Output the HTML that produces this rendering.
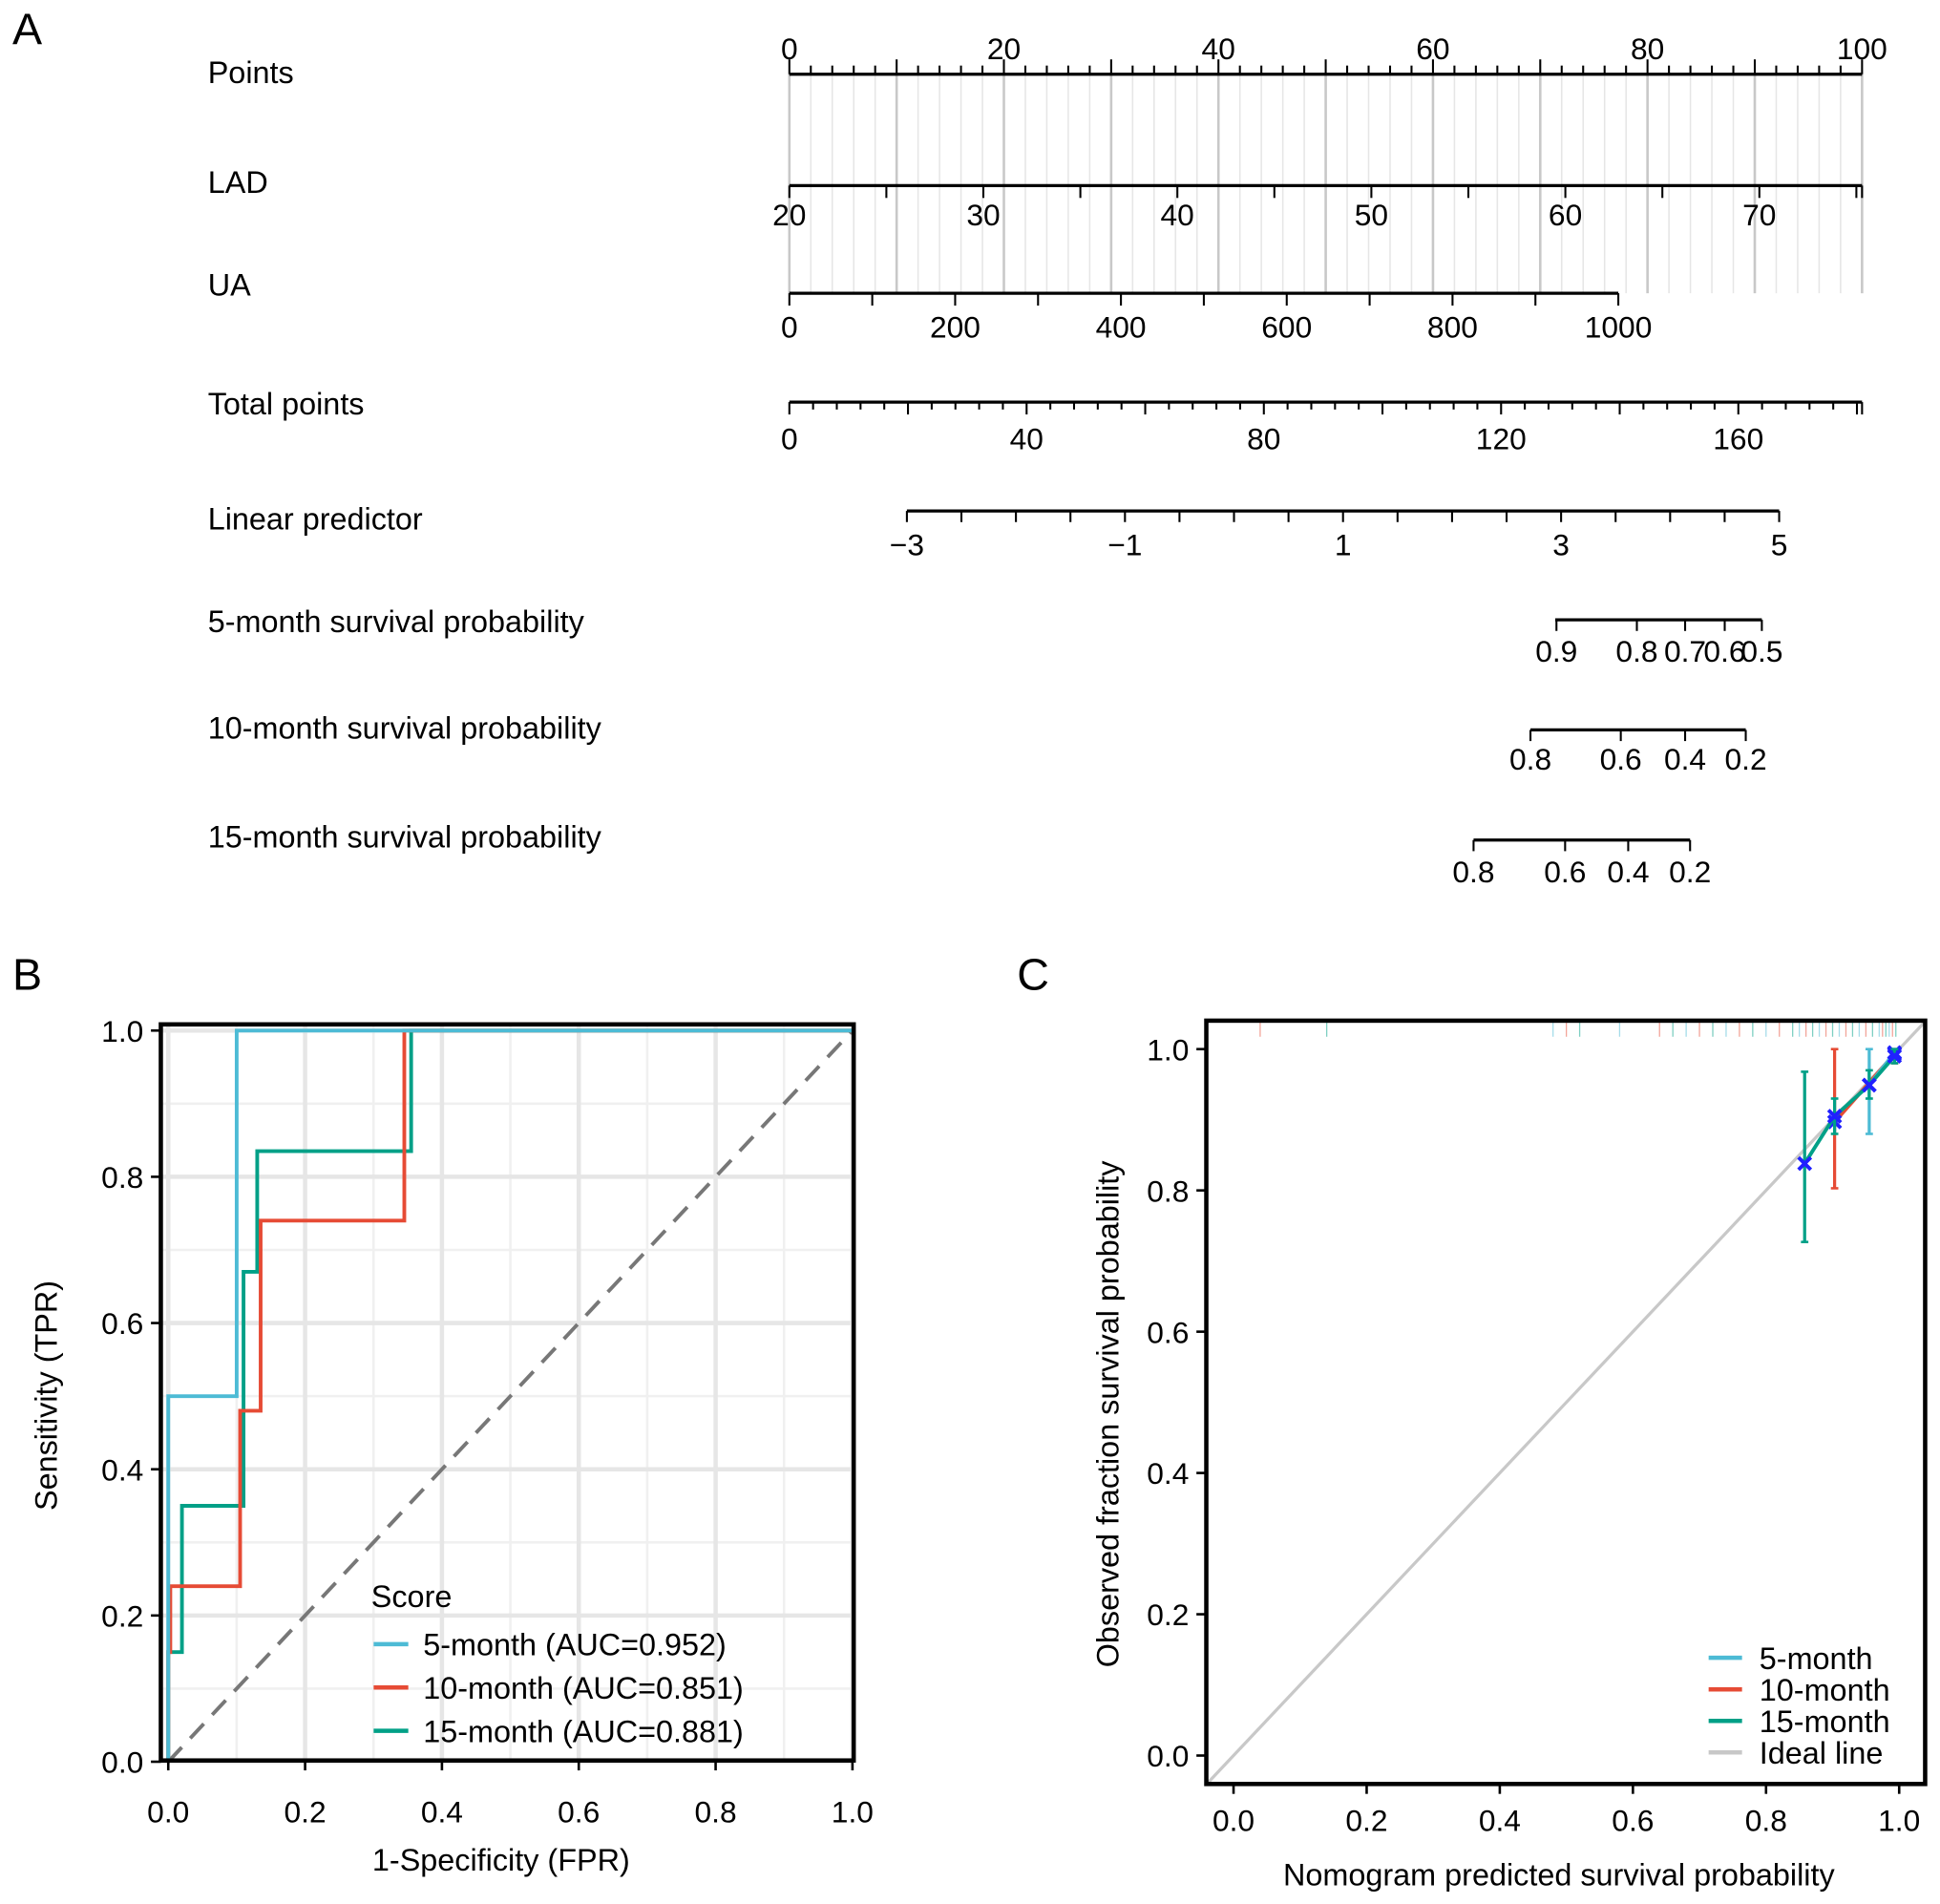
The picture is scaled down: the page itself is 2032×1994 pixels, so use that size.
<!DOCTYPE html>
<html><head><meta charset="utf-8">
<style>
html,body{margin:0;padding:0;background:#fff;}
svg{display:block;font-family:"Liberation Sans",Arial,sans-serif;}
</style></head>
<body>
<svg id="fig" width="2032" height="1994" viewBox="0 0 1568 1539" preserveAspectRatio="none" xmlns="http://www.w3.org/2000/svg">
<rect x="0" y="0" width="1568" height="1539" fill="#fff"/>
<g id="pa"></g>
<g id="pb"></g>
<g id="pc"></g>
</svg>
<script>
// ---------- Panel A data ----------
const rowLabels = ["Points","LAD","UA","Total points","Linear predictor","5-month survival probability","10-month survival probability","15-month survival probability"];
const pointsTicks = [0,20,40,60,80,100];
const ladTicks = [20,30,40,50,60,70];
const uaTicks = [0,200,400,600,800,1000];
const totalTicks = [0,40,80,120,160];
const lpTicks = [-3,-1,1,3,5];
const surv5Ticks = [0.9,0.8,0.7,0.6,0.5];
const surv5Pos = [1258,1323,1362,1394,1424];
const surv10Ticks = [0.8,0.6,0.4,0.2];
const surv10Pos = [1237,1310,1362,1411];
const surv15Ticks = [0.8,0.6,0.4,0.2];
const surv15Pos = [1191,1265,1316,1366];

// ---------- Panel B data ----------
const rocTicks = [0.0,0.2,0.4,0.6,0.8,1.0];
const roc5x = [0,0,0.1,0.1,1];
const roc5y = [0,0.5,0.5,1,1];
const roc10x = [0,0,0.003,0.003,0.105,0.105,0.135,0.135,0.345,0.345,1];
const roc10y = [0,0.15,0.15,0.24,0.24,0.48,0.48,0.74,0.74,1,1];
const roc15x = [0,0,0.02,0.02,0.11,0.11,0.13,0.13,0.355,0.355,1];
const roc15y = [0,0.15,0.15,0.35,0.35,0.67,0.67,0.835,0.835,1,1];
const rocLegend = ["5-month (AUC=0.952)","10-month (AUC=0.851)","15-month (AUC=0.881)"];

// ---------- Panel C data ----------
const calTicks = [0.0,0.2,0.4,0.6,0.8,1.0];
const cal5x = [0.955,0.993]; const cal5y=[0.949,0.995]; const cal5lo=[0.88,0.985]; const cal5hi=[1.0,1.0];
const cal10x = [0.903,0.993]; const cal10y=[0.897,0.993]; const cal10lo=[0.803,0.98]; const cal10hi=[1.0,1.0];
const cal15x = [0.858,0.903,0.955,0.993]; const cal15y=[0.838,0.905,0.949,0.99]; const cal15lo=[0.727,0.88,0.93,0.98]; const cal15hi=[0.968,0.93,0.97,1.0];
const rugX = [0.04,0.14,0.48,0.5,0.52,0.58,0.64,0.66,0.68,0.7,0.72,0.74,0.76,0.78,0.8,0.82,0.84,0.85,0.86,0.87,0.88,0.89,0.9,0.91,0.92,0.93,0.94,0.95,0.96,0.97,0.975,0.98,0.985,0.99,0.995];
const calLegend = ["5-month","10-month","15-month","Ideal line"];

const NS="http://www.w3.org/2000/svg";
function mk(parent,tag,attrs,text){const e=document.createElementNS(NS,tag);for(const k in attrs)e.setAttribute(k,attrs[k]);if(text!==undefined)e.textContent=text;parent.appendChild(e);return e;}
const blue="#4DBBD5",red="#E64B35",green="#00A087";
const FT=25.5, FL=25;

// ===== Panel A =====
const pa=document.getElementById('pa');
let t=mk(pa,'text',{x:10,y:36,'font-size':36},'A');


const rowY=[58,147,230,326,419,502,588,676];
rowLabels.forEach((l,i)=>{const e=mk(pa,'text',{x:168,y:rowY[i]+9,'font-size':FL},l);

});
const ptsX=v=>638+(1505-638)*v/100;
for(let v=0;v<=100;v+=2){const g=mk(pa,'line',{x1:ptsX(v),x2:ptsX(v),y1:60,y2:237,stroke:v%10===0?'#c8c8c8':'#e6e6e6','stroke-width':v%10===0?2:1.2});

}
function axis(name,y,x0,x1,ticks,pos,labels,up,labY,tl){
 const g=mk(pa,'g',{});
 
 
 mk(g,'line',{x1:x0,x2:x1,y1:y,y2:y,stroke:'#000','stroke-width':2.5});
 ticks.forEach((p,i)=>mk(g,'line',{x1:p,x2:p,y1:y,y2:up?y-(tl[i]||8):y+(tl[i]||8),stroke:'#000','stroke-width':1.6}));
 labels.forEach((l,i)=>mk(g,'text',{x:pos[i],y:labY,'font-size':FT-1,'text-anchor':'middle'},l));
}
let tk=[],tl=[];
for(let v=0;v<=100;v+=2){tk.push(ptsX(v));tl.push(v%10===0?12:7);}
axis('points-axis',60,638,1505,tk,pointsTicks.map(ptsX),pointsTicks.map(String),true,48,tl);
const ladX=v=>638+(1422-638)*(v-20)/50;
tk=[];tl=[];for(let v=20;v<=75;v+=5){tk.push(ladX(v));tl.push(10);} tk.push(1505);tl.push(10);
axis('lad-axis',150,638,1505,tk,ladTicks.map(ladX),ladTicks.map(String),false,182,tl);
const uaX=v=>638+(1308-638)*v/1000;
tk=[];tl=[];for(let v=0;v<=1000;v+=100){tk.push(uaX(v));tl.push(10);}
axis('ua-axis',237,638,1308,tk,uaTicks.map(uaX),uaTicks.map(String),false,273,tl);
const totX=v=>638+(1405-638)*v/160;
tk=[];tl=[];for(let v=0;v<=180;v+=4){tk.push(totX(v));tl.push(v%20===0?10:6);} tk.push(1505);tl.push(10);
axis('total-points-axis',325,638,1505,tk,totalTicks.map(totX),totalTicks.map(String),false,363,tl);
const lpX=v=>733+(1438-733)*(v+3)/8;
tk=[];tl=[];for(let v=-3;v<=5;v+=0.5){tk.push(lpX(v));tl.push(9);}
axis('linear-predictor-axis',413,733,1438,tk,lpTicks.map(lpX),lpTicks.map(v=>v<0?'\u2212'+(-v):String(v)),false,449,tl);
axis('surv-5-month-axis',501,1257,1424,surv5Pos,surv5Pos,surv5Ticks.map(String),false,535,[9,9,9,9,9]);
axis('surv-10-month-axis',590,1237,1411,surv10Pos,surv10Pos,surv10Ticks.map(String),false,622,[9,9,9,9]);
axis('surv-15-month-axis',679,1191,1366,surv15Pos,surv15Pos,surv15Ticks.map(String),false,713,[9,9,9,9]);

// ===== Panel B =====
const pb=document.getElementById('pb');
t=mk(pb,'text',{x:10,y:800,'font-size':36},'B');


const bx=v=>136+(689-136)*v, by=v=>1424-(1424-833)*v;
for(let v=0.1;v<1.0;v+=0.2){const a=mk(pb,'line',{x1:bx(v),x2:bx(v),y1:828,y2:1423,stroke:'#f0f0f0','stroke-width':2});
 const b=mk(pb,'line',{x1:130,x2:690,y1:by(v),y2:by(v),stroke:'#f0f0f0','stroke-width':2});}
rocTicks.forEach(v=>{const a=mk(pb,'line',{x1:bx(v),x2:bx(v),y1:828,y2:1423,stroke:'#e6e6e6','stroke-width':3.5});
 const b=mk(pb,'line',{x1:130,x2:690,y1:by(v),y2:by(v),stroke:'#e6e6e6','stroke-width':3.5});});
let dg=mk(pb,'line',{x1:bx(0),y1:by(0),x2:bx(1),y2:by(1),stroke:'#777','stroke-width':3,'stroke-dasharray':'16,10'});


function poly(parent,xs,ys,fx,fy,col,name,w){const p=mk(parent,'polyline',{points:xs.map((x,i)=>fx(x)+','+fy(ys[i])).join(' '),fill:'none',stroke:col,'stroke-width':w||3});
 
 return p;}
poly(pb,roc15x,roc15y,bx,by,green,'roc-curve-15-month');
poly(pb,roc10x,roc10y,bx,by,red,'roc-curve-10-month');
poly(pb,roc5x,roc5y,bx,by,blue,'roc-curve-5-month');
let fr=mk(pb,'rect',{x:130,y:828,width:560,height:595,fill:'none',stroke:'#000','stroke-width':3.5});


rocTicks.forEach(v=>{mk(pb,'line',{x1:bx(v),x2:bx(v),y1:1423,y2:1431,stroke:'#000','stroke-width':2});
 const a=mk(pb,'text',{x:bx(v),y:1473,'font-size':FT-1,'text-anchor':'middle'},v.toFixed(1));
 mk(pb,'line',{x1:122,x2:130,y1:by(v),y2:by(v),stroke:'#000','stroke-width':2});
 const b=mk(pb,'text',{x:116,y:by(v)+9,'font-size':FT-1,'text-anchor':'end'},v.toFixed(1));});
t=mk(pb,'text',{x:405,y:1512,'font-size':FL,'text-anchor':'middle'},'1-Specificity (FPR)');


t=mk(pb,'text',{x:0,y:0,'font-size':FL,'text-anchor':'middle',transform:'translate(46,1128) rotate(-90)'},'Sensitivity (TPR)');


t=mk(pb,'text',{x:300,y:1299,'font-size':FL},'Score');


[blue,red,green].forEach((c,i)=>{const g=mk(pb,'g',{});
 
 
 const y=1329+i*35;mk(g,'line',{x1:302,x2:330,y1:y,y2:y,stroke:c,'stroke-width':3.5});
 mk(g,'text',{x:342,y:y+9,'font-size':FL},rocLegend[i]);});

// ===== Panel C =====
const pc=document.getElementById('pc');
t=mk(pc,'text',{x:822,y:800,'font-size':36},'C');


const cx=v=>997+(1535-997)*v, cy=v=>1419-(1419-848)*v;
const cp=mk(pc,'clipPath',{id:'cclip'});mk(cp,'rect',{x:975,y:825,width:581,height:617});
let il=mk(pc,'line',{x1:cx(-0.05),y1:cy(-0.05),x2:cx(1.05),y2:cy(1.05),stroke:'#c8c8c8','stroke-width':2.5,'clip-path':'url(#cclip)'});


rugX.forEach((v,i)=>{const r=mk(pc,'line',{x1:cx(v),x2:cx(v),y1:826,y2:838,stroke:[red,green,blue][i%3],'stroke-width':1,opacity:0.5});
 
 });
function calSeries(xs,ys,lo,hi,col,name){const g=mk(pc,'g',{});
 
 
 xs.forEach((x,i)=>{mk(g,'line',{x1:cx(x),x2:cx(x),y1:cy(lo[i]),y2:cy(hi[i]),stroke:col,'stroke-width':2.5});
  mk(g,'line',{x1:cx(x)-3,x2:cx(x)+3,y1:cy(lo[i]),y2:cy(lo[i]),stroke:col,'stroke-width':2});
  mk(g,'line',{x1:cx(x)-3,x2:cx(x)+3,y1:cy(hi[i]),y2:cy(hi[i]),stroke:col,'stroke-width':2});});
 mk(g,'polyline',{points:xs.map((x,i)=>cx(x)+','+cy(ys[i])).join(' '),fill:'none',stroke:col,'stroke-width':3});
 xs.forEach((x,i)=>{const X=cx(x),Y=cy(ys[i]);mk(g,'path',{d:`M${X-5},${Y-5}L${X+5},${Y+5}M${X-5},${Y+5}L${X+5},${Y-5}`,stroke:'#2020ff','stroke-width':3});});}
calSeries(cal10x,cal10y,cal10lo,cal10hi,red,'calibration-10-month');
calSeries(cal5x,cal5y,cal5lo,cal5hi,blue,'calibration-5-month');
calSeries(cal15x,cal15y,cal15lo,cal15hi,green,'calibration-15-month');
fr=mk(pc,'rect',{x:975,y:825,width:581,height:617,fill:'none',stroke:'#000','stroke-width':3.5});


calTicks.forEach(v=>{mk(pc,'line',{x1:cx(v),x2:cx(v),y1:1442,y2:1450,stroke:'#000','stroke-width':2});
 const a=mk(pc,'text',{x:cx(v),y:1480,'font-size':FT-1,'text-anchor':'middle'},v.toFixed(1));
 mk(pc,'line',{x1:967,x2:975,y1:cy(v),y2:cy(v),stroke:'#000','stroke-width':2});
 const b=mk(pc,'text',{x:961,y:cy(v)+9,'font-size':FT-1,'text-anchor':'end'},v.toFixed(1));});
t=mk(pc,'text',{x:1260,y:1524,'font-size':FL,'text-anchor':'middle'},'Nomogram predicted survival probability');


t=mk(pc,'text',{x:0,y:0,'font-size':FL,'text-anchor':'middle',transform:'translate(904,1143) rotate(-90)'},'Observed fraction survival probability');


[blue,red,green,'#c8c8c8'].forEach((c,i)=>{const g=mk(pc,'g',{});
 
 
 const y=1340+i*25.5;mk(g,'line',{x1:1381,x2:1408,y1:y,y2:y,stroke:c,'stroke-width':3.5});
 mk(g,'text',{x:1422,y:y+9,'font-size':FL},calLegend[i]);});
</script>
</body></html>
